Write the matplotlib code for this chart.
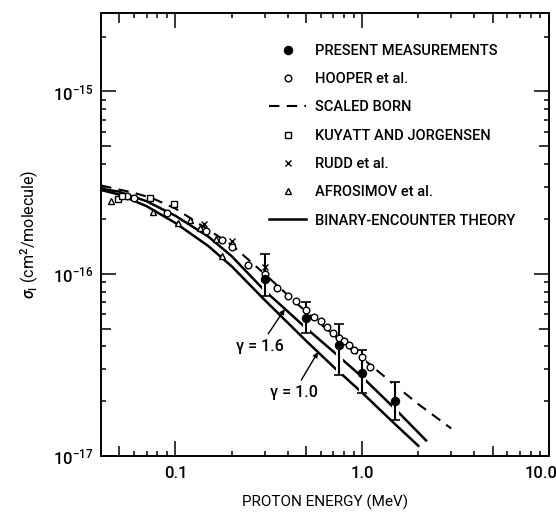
import numpy as np
import matplotlib
matplotlib.use("Agg")
import matplotlib.pyplot as plt
import matplotlib.patheffects as pe
import matplotlib.transforms as mtrans
from matplotlib.ticker import NullLocator, NullFormatter, LogLocator

plt.rcParams['font.family'] = ['Roboto', 'DejaVu Sans']
plt.rcParams['font.weight'] = 500
plt.rcParams['mathtext.fontset'] = 'custom'
plt.rcParams['mathtext.rm'] = 'Roboto:medium'
plt.rcParams['mathtext.it'] = 'Roboto:italic'

# Present measurements (MeV, cm^2/molecule) with error bar limits
meas_E = [0.3, 0.5, 0.75, 1.0, 1.5]
meas_sig = [9.4e-17, 5.75e-17, 4.08e-17, 2.86e-17, 2.02e-17]
meas_lo = [7.6e-17, 4.72e-17, 2.78e-17, 2.21e-17, 1.57e-17]
meas_hi = [1.28e-16, 7.0e-17, 5.28e-17, 3.8e-17, 2.56e-17]

# Hooper et al.
hooper_E = [0.055, 0.06, 0.09, 0.145, 0.177, 0.2, 0.244, 0.3, 0.35, 0.4, 0.44,
            0.5, 0.55, 0.6, 0.65, 0.7, 0.75, 0.8, 0.85, 0.9, 1.0, 1.1]
hooper_sig = [2.66e-16, 2.62e-16, 2.16e-16, 1.71e-16, 1.53e-16, 1.40e-16, 1.12e-16,
              1.0e-16, 8.36e-17, 7.57e-17, 7.07e-17, 6.32e-17, 5.8e-17, 5.5e-17,
              5.1e-17, 4.75e-17, 4.45e-17, 4.28e-17, 4.08e-17, 3.8e-17, 3.5e-17, 3.1e-17]

# Kuyatt and Jorgensen
kuyatt_E = [0.049, 0.052, 0.073, 0.098]
kuyatt_sig = [2.57e-16, 2.68e-16, 2.61e-16, 2.42e-16]

# Rudd et al.
rudd_E = [0.143, 0.2, 0.3]
rudd_sig = [1.87e-16, 1.51e-16, 1.09e-16]

# Afrosimov et al.
afro_E = [0.045, 0.076, 0.103, 0.119, 0.135, 0.164, 0.177]
afro_sig = [2.5e-16, 2.19e-16, 1.9e-16, 1.97e-16, 1.79e-16, 1.55e-16, 1.25e-16]

# Scaled Born curve
born_E = [0.04, 0.06, 0.075, 0.1, 0.135, 0.2, 0.3, 0.5, 0.7, 1.0, 1.5, 2.0, 3.0]
born_sig = [3.05e-16, 2.78e-16, 2.6e-16, 2.28e-16, 1.87e-16, 1.44e-16, 1.0e-16,
            6.2e-17, 4.65e-17, 3.45e-17, 2.45e-17, 1.93e-17, 1.42e-17]

# Binary-encounter theory, gamma = 1.0 and gamma = 1.6
g10_E = [0.04, 0.05, 0.07, 0.1, 0.15, 0.2, 0.3, 0.5, 0.7, 1.0, 1.5, 2.0]
g10_sig = [2.88e-16, 2.72e-16, 2.35e-16, 1.90e-16, 1.42e-16, 1.10e-16, 7.2e-17,
           4.3e-17, 3.1e-17, 2.23e-17, 1.5e-17, 1.14e-17]
g16_E = [0.04, 0.05, 0.07, 0.1, 0.15, 0.2, 0.3, 0.5, 0.7, 1.0, 1.5, 2.2]
g16_sig = [2.93e-16, 2.82e-16, 2.5e-16, 2.08e-16, 1.6e-16, 1.25e-16, 8.1e-17,
           5.05e-17, 3.75e-17, 2.72e-17, 1.82e-17, 1.22e-17]

x_major = [0.1, 1.0, 10.0]
x_labels = ["0.1", "1.0", "10.0"]
x_mid = [0.05, 0.5, 5.0]
y_major = [1e-17, 1e-16, 1e-15]
y_mid = [5e-17, 5e-16]

fig = plt.figure(figsize=(5.56, 5.12), dpi=100)
ax = fig.add_axes([0.182, 0.109, 0.805, 0.866])
ax.set_xscale('log')
ax.set_yscale('log')

lw = 1.8
born, = ax.plot(born_E, born_sig, color='k', lw=1.5, dashes=(5, 3.5), zorder=2)
g10, = ax.plot(g10_E, g10_sig, color='k', lw=lw, zorder=2)
g16, = ax.plot(g16_E, g16_sig, color='k', lw=lw, zorder=2)

err = ax.errorbar(meas_E, meas_sig,
                  yerr=[np.array(meas_sig) - np.array(meas_lo),
                        np.array(meas_hi) - np.array(meas_sig)],
                  fmt='none', ecolor='k', elinewidth=1.5, capsize=3.5,
                  capthick=1.2, zorder=3)
for bar in err[2]:
    bar.set_path_effects([pe.Stroke(linewidth=5, foreground='white'), pe.Normal()])

hooper, = ax.plot(hooper_E, hooper_sig, 'o', mfc='white', mec='k', mew=1.0, ms=4.8, ls='none', zorder=4)
kuyatt, = ax.plot(kuyatt_E, kuyatt_sig, 's', mfc='white', mec='k', mew=1.0, ms=4.8, ls='none', zorder=4)
rudd, = ax.plot(rudd_E, rudd_sig, 'x', color='k', mew=1.0, ms=5, ls='none', zorder=4)
afro, = ax.plot(afro_E, afro_sig, '^', mfc='white', mec='k', mew=1.0, ms=5, ls='none', zorder=4)
meas, = ax.plot(meas_E, meas_sig, 'o', color='k', ms=5.8, ls='none', zorder=5)

ax.annotate('γ = 1.6', xy=(0.385, 6.4e-17), xytext=(0.283, 4.0e-17),
            ha='center', va='center', fontsize=11.5,
            arrowprops=dict(arrowstyle='-|>', color='k', lw=1.0, mutation_scale=7,
                            shrinkA=2, shrinkB=0))
ax.annotate('γ = 1.0', xy=(0.58, 3.72e-17), xytext=(0.43, 2.23e-17),
            ha='center', va='center', fontsize=11.5,
            arrowprops=dict(arrowstyle='-|>', color='k', lw=1.0, mutation_scale=7,
                            shrinkA=2, shrinkB=0))

ax.set_xlim(0.04, 10)
ax.set_ylim(1e-17, 2.7e-15)

ax.set_xticks(x_major)
ax.set_xticklabels(x_labels)
ax.set_yticks(y_major)
ax.xaxis.set_minor_locator(LogLocator(base=10, subs=[2, 3, 4, 6, 7, 8, 9]))
ax.yaxis.set_minor_locator(LogLocator(base=10, subs=[2, 3, 4, 6, 7, 8, 9]))
ax.xaxis.set_minor_formatter(NullFormatter())
ax.yaxis.set_minor_formatter(NullFormatter())
ax.tick_params(which='both', direction='in', top=True, right=True, width=1.1)
ax.tick_params(which='major', length=11, labelsize=12)
ax.tick_params(which='minor', length=3.5)
ax.tick_params(axis='x', pad=7)
ax.tick_params(axis='y', pad=6)

# medium ticks at the 5s
for loc in ['bottom', 'top']:
    sx = ax.secondary_xaxis(loc)
    sx.set_xticks(x_mid)
    sx.xaxis.set_minor_locator(NullLocator())
    sx.xaxis.set_major_formatter(NullFormatter())
    sx.tick_params(direction='in', length=7, width=1.1)
    sx.spines[loc].set_visible(False)
for loc in ['left', 'right']:
    sy = ax.secondary_yaxis(loc)
    sy.set_yticks(y_mid)
    sy.yaxis.set_minor_locator(NullLocator())
    sy.yaxis.set_major_formatter(NullFormatter())
    sy.tick_params(direction='in', length=7, width=1.1)
    sy.spines[loc].set_visible(False)

for s in ax.spines.values():
    s.set_linewidth(1.4)

# the "10.0" label sits a little left of its tick in the original
last = ax.xaxis.get_major_ticks()[-1].label1
last.set_transform(last.get_transform() + mtrans.ScaledTranslation(-0.08, 0, fig.dpi_scale_trans))

ax.set_xlabel('PROTON ENERGY (MeV)', fontsize=11, labelpad=10)
ax.set_ylabel(r'$\sigma_{\rm I}$ (cm$^{2}$/molecule)', fontsize=11.5, labelpad=8)

handles = [meas, hooper, born, kuyatt, rudd, afro, g10]
labels = ['PRESENT MEASUREMENTS', 'HOOPER et al.', 'SCALED BORN',
          'KUYATT AND JORGENSEN', 'RUDD et al.', 'AFROSIMOV et al.',
          'BINARY-ENCOUNTER THEORY']
ax.legend(handles, labels, loc='upper left', bbox_to_anchor=(0.376, 0.93),
          frameon=False, fontsize=10.5, handlelength=2.5, handletextpad=0.6,
          labelspacing=0.98, borderpad=0, borderaxespad=0, numpoints=1)

fig.savefig('out.png', dpi=100)
